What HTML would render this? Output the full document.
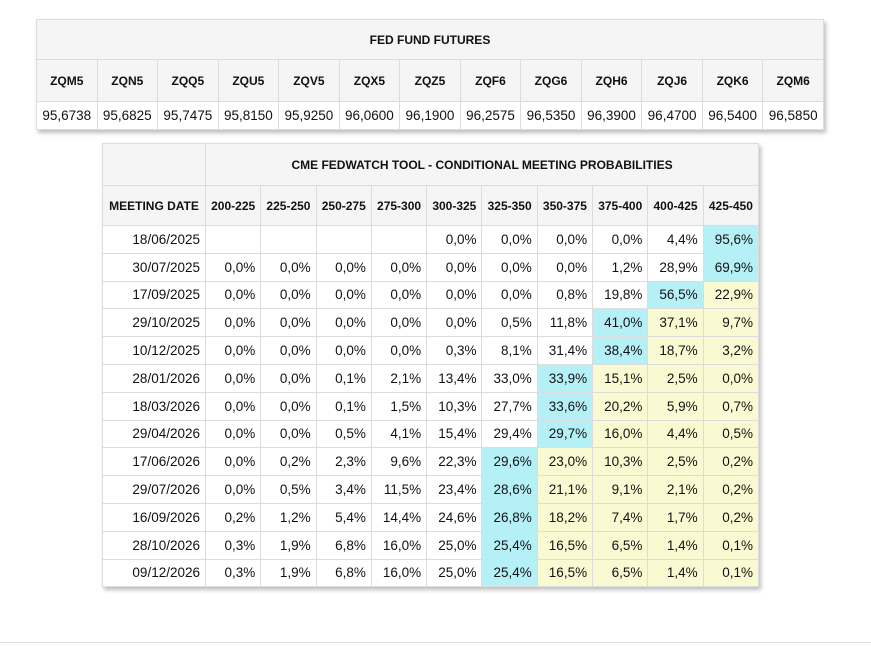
<!DOCTYPE html>
<html><head><meta charset="utf-8"><style>
body{margin:0;width:871px;height:647px;background:#fff;font-family:"Liberation Sans",Arial,sans-serif;position:relative;overflow:hidden}
table{border-collapse:collapse;table-layout:fixed;position:absolute;box-shadow:2px 3px 4px rgba(0,0,0,0.25);background:#fff}
td,th{border:1px solid #dcdcdc;padding:0;color:#111}
th{background:#f5f5f5;font-size:12px;font-weight:bold;text-align:center}
#t1{left:36px;top:19px;width:788px}
#t1 td{height:27px;font-size:13.5px;text-align:center}
#t2{left:102px;top:143px;width:656px}
#t2 td{height:26.8px;font-size:13.5px;text-align:right;padding-right:5px}
.c{background:#b5f0f7}.y{background:#fafad2}
#line{position:absolute;left:0;top:642px;width:871px;height:1px;background:#ddd}
</style></head><body>
<table id="t1">
<tr><th colspan="13" style="height:39px">FED FUND FUTURES</th></tr>
<tr style="height:42px"><th>ZQM5</th><th>ZQN5</th><th>ZQQ5</th><th>ZQU5</th><th>ZQV5</th><th>ZQX5</th><th>ZQZ5</th><th>ZQF6</th><th>ZQG6</th><th>ZQH6</th><th>ZQJ6</th><th>ZQK6</th><th>ZQM6</th></tr>
<tr><td>95,6738</td><td>95,6825</td><td>95,7475</td><td>95,8150</td><td>95,9250</td><td>96,0600</td><td>96,1900</td><td>96,2575</td><td>96,5350</td><td>96,3900</td><td>96,4700</td><td>96,5400</td><td>96,5850</td></tr>
</table>
<table id="t2">
<colgroup><col style="width:103px"><col span="10" style="width:55.3px"></colgroup>
<tr><th style="height:41px"></th><th colspan="10">CME FEDWATCH TOOL - CONDITIONAL MEETING PROBABILITIES</th></tr>
<tr style="height:40px"><th>MEETING DATE</th><th>200-225</th><th>225-250</th><th>250-275</th><th>275-300</th><th>300-325</th><th>325-350</th><th>350-375</th><th>375-400</th><th>400-425</th><th>425-450</th></tr>
<tr><td>18/06/2025</td><td></td><td></td><td></td><td></td><td>0,0%</td><td>0,0%</td><td>0,0%</td><td>0,0%</td><td>4,4%</td><td class="c">95,6%</td></tr>
<tr><td>30/07/2025</td><td>0,0%</td><td>0,0%</td><td>0,0%</td><td>0,0%</td><td>0,0%</td><td>0,0%</td><td>0,0%</td><td>1,2%</td><td>28,9%</td><td class="c">69,9%</td></tr>
<tr><td>17/09/2025</td><td>0,0%</td><td>0,0%</td><td>0,0%</td><td>0,0%</td><td>0,0%</td><td>0,0%</td><td>0,8%</td><td>19,8%</td><td class="c">56,5%</td><td class="y">22,9%</td></tr>
<tr><td>29/10/2025</td><td>0,0%</td><td>0,0%</td><td>0,0%</td><td>0,0%</td><td>0,0%</td><td>0,5%</td><td>11,8%</td><td class="c">41,0%</td><td class="y">37,1%</td><td class="y">9,7%</td></tr>
<tr><td>10/12/2025</td><td>0,0%</td><td>0,0%</td><td>0,0%</td><td>0,0%</td><td>0,3%</td><td>8,1%</td><td>31,4%</td><td class="c">38,4%</td><td class="y">18,7%</td><td class="y">3,2%</td></tr>
<tr><td>28/01/2026</td><td>0,0%</td><td>0,0%</td><td>0,1%</td><td>2,1%</td><td>13,4%</td><td>33,0%</td><td class="c">33,9%</td><td class="y">15,1%</td><td class="y">2,5%</td><td class="y">0,0%</td></tr>
<tr><td>18/03/2026</td><td>0,0%</td><td>0,0%</td><td>0,1%</td><td>1,5%</td><td>10,3%</td><td>27,7%</td><td class="c">33,6%</td><td class="y">20,2%</td><td class="y">5,9%</td><td class="y">0,7%</td></tr>
<tr><td>29/04/2026</td><td>0,0%</td><td>0,0%</td><td>0,5%</td><td>4,1%</td><td>15,4%</td><td>29,4%</td><td class="c">29,7%</td><td class="y">16,0%</td><td class="y">4,4%</td><td class="y">0,5%</td></tr>
<tr><td>17/06/2026</td><td>0,0%</td><td>0,2%</td><td>2,3%</td><td>9,6%</td><td>22,3%</td><td class="c">29,6%</td><td class="y">23,0%</td><td class="y">10,3%</td><td class="y">2,5%</td><td class="y">0,2%</td></tr>
<tr><td>29/07/2026</td><td>0,0%</td><td>0,5%</td><td>3,4%</td><td>11,5%</td><td>23,4%</td><td class="c">28,6%</td><td class="y">21,1%</td><td class="y">9,1%</td><td class="y">2,1%</td><td class="y">0,2%</td></tr>
<tr><td>16/09/2026</td><td>0,2%</td><td>1,2%</td><td>5,4%</td><td>14,4%</td><td>24,6%</td><td class="c">26,8%</td><td class="y">18,2%</td><td class="y">7,4%</td><td class="y">1,7%</td><td class="y">0,2%</td></tr>
<tr><td>28/10/2026</td><td>0,3%</td><td>1,9%</td><td>6,8%</td><td>16,0%</td><td>25,0%</td><td class="c">25,4%</td><td class="y">16,5%</td><td class="y">6,5%</td><td class="y">1,4%</td><td class="y">0,1%</td></tr>
<tr><td>09/12/2026</td><td>0,3%</td><td>1,9%</td><td>6,8%</td><td>16,0%</td><td>25,0%</td><td class="c">25,4%</td><td class="y">16,5%</td><td class="y">6,5%</td><td class="y">1,4%</td><td class="y">0,1%</td></tr>
</table>
<div id="line"></div>
</body></html>
